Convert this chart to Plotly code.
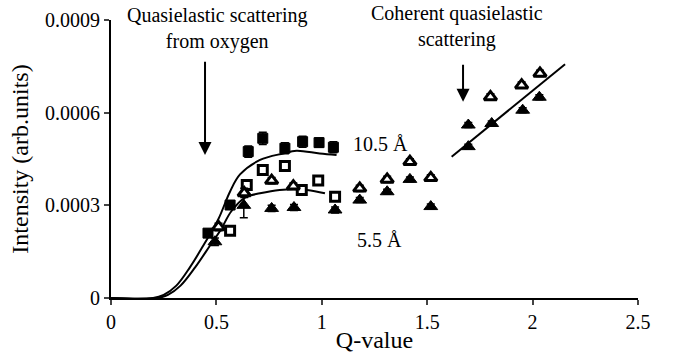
import plotly.graph_objects as go

# Data
sqf_q = [0.46, 0.565, 0.651, 0.72, 0.825, 0.909, 0.987, 1.055]
sqf_i = [0.000210, 0.000301, 0.000474, 0.000517, 0.000485, 0.000506, 0.000503, 0.000488]
sqf_e = [0.000012, 0.000012, 0.000018, 0.000020, 0.000018, 0.000018, 0.000015, 0.000018]

sqo_q = [0.565, 0.644, 0.72, 0.825, 0.905, 0.983, 1.063]
sqo_i = [0.000218, 0.000366, 0.000414, 0.000427, 0.000350, 0.000380, 0.000328]
sqo_e = [0.000010, 0.000012, 0.000012, 0.000012, 0.000010, 0.000010, 0.000012]

trio_q = [0.51, 0.632, 0.762, 0.865, 1.18, 1.31, 1.418, 1.517, 1.80, 1.948, 2.035]
trio_i = [0.000230, 0.000340, 0.000380, 0.000362, 0.000355, 0.000384, 0.000441, 0.000389, 0.000651, 0.000689, 0.000727]
trio_e = [0.000012, 0.000015, 0.000010, 0.000010, 0.000010, 0.000010, 0.000010, 0.000010, 0.000010, 0.000010, 0.000010]

trif_q = [0.493, 0.63, 0.762, 0.868, 1.063, 1.18, 1.31, 1.418, 1.517, 1.695, 1.695, 1.806, 1.953, 2.032]
trif_i = [0.000182, 0.000300, 0.000290, 0.000293, 0.000285, 0.000317, 0.000344, 0.000384, 0.000296,
          0.000560, 0.000490, 0.000565, 0.000608, 0.000650]
trif_e = [0.000012, 0.000040, 0.000010, 0.000010, 0.000010, 0.000008, 0.000008, 0.000008, 0.000008,
          0.000008, 0.000008, 0.000008, 0.000008, 0.000008]

up_q = [0, 0.2, 0.25, 0.31, 0.375, 0.438, 0.509, 0.565, 0.612, 0.707, 0.817, 0.88, 0.99, 1.07]
up_i = [0, 0, 0.000010, 0.000040, 0.000100, 0.000170, 0.000255, 0.000345, 0.000400, 0.000447, 0.000468,
        0.000477, 0.000468, 0.000463]

lo_q = [0, 0.22, 0.27, 0.33, 0.4, 0.47, 0.52, 0.57, 0.636, 0.707, 0.8, 0.93, 1.015]
lo_i = [0, 0, 0.000010, 0.000040, 0.000100, 0.000170, 0.000220, 0.000280, 0.000325, 0.000339,
        0.000350, 0.000350, 0.000339]

fit_q = [1.616, 2.154]
fit_i = [0.000457, 0.000757]

xticks = [0, 0.5, 1, 1.5, 2, 2.5]
xtick_text = ["0", "0.5", "1", "1.5", "2", "2.5"]
yticks = [0, 0.0003, 0.0006, 0.0009]
ytick_text = ["0", "0.0003", "0.0006", "0.0009"]

FONT = "Liberation Serif"
FS = 20
fig = go.Figure()

line_style = dict(color="black", width=2)
fig.add_trace(go.Scatter(x=up_q, y=up_i, mode="lines", line=dict(shape="spline", **line_style)))
fig.add_trace(go.Scatter(x=lo_q, y=lo_i, mode="lines", line=dict(shape="spline", **line_style)))
fig.add_trace(go.Scatter(x=fit_q, y=fit_i, mode="lines", line=line_style))

def pts(q, i, e, symbol, filled, size):
    return go.Scatter(
        x=q, y=i, mode="markers",
        error_y=dict(type="data", array=e, color="black", thickness=1.5, width=4),
        marker=dict(symbol=symbol, size=size,
                    color="black" if filled else "white",
                    line=dict(color="black", width=1 if filled else 3)))

fig.add_trace(pts(sqf_q, sqf_i, sqf_e, "square", True, 10))
fig.add_trace(pts(sqo_q, sqo_i, sqo_e, "square", False, 9))
fig.add_trace(pts(trif_q, trif_i, trif_e, "triangle-up", True, 12))
fig.add_trace(pts(trio_q, trio_i, trio_e, "triangle-up", False, 11))

anns = [
    dict(x=0.503, y=0.97, text="Quasielastic scattering<br>from oxygen", yanchor="middle", yref="paper"),
    dict(x=1.643, y=0.975, text="Coherent quasielastic<br>scattering", yanchor="middle", yref="paper"),
    dict(x=1.28, y=0.0005, text="10.5 Å", yanchor="middle", yref="y"),
    dict(x=1.275, y=0.000188, text="5.5 Å", yanchor="middle", yref="y"),
]
for a in anns:
    fig.add_annotation(xref="x", showarrow=False, font=dict(family=FONT, size=FS, color="black"),
                       **a)
# arrows
fig.add_annotation(x=0.446, y=0.000463, ax=0.446, ay=0.00077, xref="x", yref="y", axref="x", ayref="y",
                   showarrow=True, arrowhead=2, arrowsize=1.3, arrowwidth=2, arrowcolor="black", text="")
fig.add_annotation(x=1.67, y=0.000635, ax=1.67, ay=0.00076, xref="x", yref="y", axref="x", ayref="y",
                   showarrow=True, arrowhead=2, arrowsize=1.3, arrowwidth=2, arrowcolor="black", text="")

fig.update_layout(
    width=678, height=353, showlegend=False,
    margin=dict(l=111, r=40, t=20, b=55),
    paper_bgcolor="white", plot_bgcolor="white",
    font=dict(family=FONT, size=FS, color="black"),
    xaxis=dict(range=[0, 2.5], tickvals=xticks, ticktext=xtick_text, showgrid=False, zeroline=False,
               showline=True, linecolor="black", linewidth=2, ticks="outside", ticklen=5, tickwidth=2,
               title=dict(text="Q-value", standoff=0), tickfont=dict(size=FS), automargin=False),
    yaxis=dict(range=[0, 0.0009], tickvals=yticks, ticktext=ytick_text, showgrid=False, zeroline=False,
               showline=True, linecolor="black", linewidth=2, ticks="outside", ticklen=5, tickwidth=2,
               title=dict(text="Intensity (arb.units)", standoff=10), tickfont=dict(size=FS),
               automargin=False),
)
fig.write_html("out.html")
